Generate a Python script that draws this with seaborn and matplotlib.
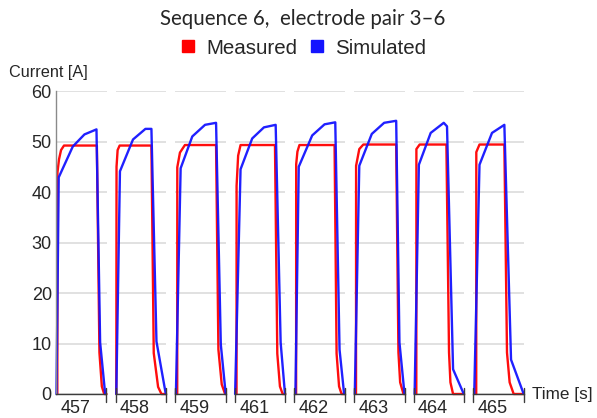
import numpy as np
import pandas as pd
import matplotlib
matplotlib.use('Agg')
import matplotlib.pyplot as plt
from matplotlib.lines import Line2D
import seaborn as sns

# ─── data: one pulse per panel, time offsets [s] relative to the tick ────────

ticks = [457, 458, 459, 461, 462, 463, 464, 465]

meas_dt = [
    [-0.233, -0.231, -0.211, -0.185, -0.147, 0.276, 0.309, 0.340, 0.370, 0.400],
    [-0.241, -0.238, -0.224, -0.198, 0.211, 0.241, 0.297, 0.340, 0.400],
    [-0.224, -0.223, -0.189, -0.125, 0.276, 0.306, 0.349, 0.392, 0.400],
    [-0.228, -0.227, -0.207, -0.176, 0.267, 0.297, 0.331, 0.366, 0.400],
    [-0.228, -0.227, -0.211, -0.185, 0.267, 0.293, 0.325, 0.357, 0.400],
    [-0.224, -0.223, -0.182, -0.130, 0.293, 0.322, 0.344, 0.387, 0.400],
    [-0.215, -0.214, -0.172, 0.172, 0.206, 0.224, 0.258, 0.400],
    [-0.211, -0.210, -0.169, 0.151, 0.185, 0.219, 0.271, 0.400],
]
meas_i = [
    [0, 43.9, 46.5, 48.3, 49.2, 49.2, 8.2, 1.5, 0, 0],
    [0, 45.0, 48.3, 49.2, 49.2, 8.1, 1.4, 0, 0],
    [0, 44.9, 47.8, 49.3, 49.3, 8.8, 1.9, 0, 0],
    [0, 41.2, 47.2, 49.3, 49.3, 8.0, 1.5, 0, 0],
    [0, 45.5, 48.0, 49.3, 49.3, 8.0, 1.5, 0, 0],
    [0, 45.2, 48.5, 49.4, 49.4, 8.2, 2.3, 0, 0],
    [0, 48.5, 49.4, 49.4, 8.2, 2.3, 0, 0],
    [0, 47.9, 49.4, 49.4, 8.2, 2.3, 0, 0],
]

sim_dt = [
    [-0.244, -0.215, -0.034, 0.116, 0.271, 0.318, 0.383],
    [-0.241, -0.194, -0.026, 0.134, 0.211, 0.276, 0.396],
    [-0.241, -0.180, -0.030, 0.134, 0.276, 0.337, 0.400],
    [-0.246, -0.176, -0.026, 0.125, 0.276, 0.340, 0.396],
    [-0.237, -0.194, -0.021, 0.138, 0.276, 0.331, 0.390],
    [-0.240, -0.182, -0.021, 0.138, 0.293, 0.335, 0.400],
    [-0.237, -0.182, -0.030, 0.138, 0.180, 0.258, 0.396],
    [-0.237, -0.169, -0.008, 0.151, 0.237, 0.400],
]
sim_i = [
    [0, 42.9, 49.0, 51.4, 52.4, 10.2, 0],
    [0, 44.1, 50.4, 52.5, 52.5, 10.4, 0],
    [0, 44.7, 51.0, 53.3, 53.7, 9.8, 0],
    [0, 44.5, 50.6, 52.8, 53.3, 10.2, 0],
    [0, 45.0, 51.2, 53.4, 53.8, 8.8, 0],
    [0, 45.2, 51.5, 53.7, 54.1, 10.2, 0],
    [0, 45.4, 51.7, 53.7, 53.0, 4.9, 0],
    [0, 45.4, 51.7, 53.3, 6.8, 0],
]

rows = []
for k, t in enumerate(ticks):
    for dt, cur in zip(meas_dt[k], meas_i[k]):
        rows.append((k, t + dt, cur, 'Measured'))
    for dt, cur in zip(sim_dt[k], sim_i[k]):
        rows.append((k, t + dt, cur, 'Simulated'))
df = pd.DataFrame(rows, columns=['panel', 'time', 'current', 'series'])

colors = {'Measured': '#ff0000', 'Simulated': '#1414ff'}

# ─── figure ──────────────────────────────────────────────────────────────────

sns.set_style('white')
plt.rcParams['font.family'] = ['Liberation Sans', 'DejaVu Sans']

W, H = 597, 418
fig = plt.figure(figsize=(W / 100, H / 100), dpi=100)

left0, pw, step = 56, 50.5, 59.6
y_top, y_bot = 91, 394
axis_col = '#3c3c3c'

for k, t in enumerate(ticks):
    x0 = left0 + k * step
    ax = fig.add_axes([x0 / W, 1 - y_bot / H, pw / W, (y_bot - y_top) / H])
    sub = df[df.panel == k]
    for name in ['Measured', 'Simulated']:
        s = sub[sub.series == name]
        sns.lineplot(x=s.time.values, y=s.current.values, ax=ax, color=colors[name],
                     lw=1.7, estimator=None, sort=False, alpha=0.95)
    for ln in ax.lines:
        ln.set_clip_on(False)

    ax.set_xlim(t - 0.25, t + 0.40)
    ax.set_ylim(0, 60)
    ax.set_yticks(range(0, 61, 10))
    ax.yaxis.grid(True, color='#dedede', lw=1.3)
    ax.xaxis.grid(False)
    ax.set_axisbelow(True)
    ax.set_xticks([t])
    ax.set_xticklabels([str(t)], fontsize=13)
    ax.tick_params(axis='x', direction='in', length=3, width=0.8, color=axis_col, pad=4)

    for sp in ['top', 'right']:
        ax.spines[sp].set_visible(False)
    ax.spines['bottom'].set_color(axis_col)
    ax.spines['bottom'].set_linewidth(1.0)

    if k == 0:
        ax.spines['left'].set_color('#8a8a8a')
        ax.spines['left'].set_linewidth(1.0)
        ax.set_yticks(np.arange(0, 61, 2), minor=True)
        ax.tick_params(axis='y', which='major', direction='in', length=4, width=0.8,
                       color='#8a8a8a', labelsize=13, pad=3)
        ax.tick_params(axis='y', which='minor', direction='in', length=2, width=0.6,
                       color='#8a8a8a')
    else:
        ax.spines['left'].set_visible(False)
        ax.tick_params(axis='y', length=0, labelleft=False)
        ax.plot([t - 0.25, t - 0.25], [-1.6, 1.2], color=axis_col, lw=1.0, clip_on=False)
    ax.plot([t + 0.40, t + 0.40], [-1.6, 1.2], color=axis_col, lw=1.0, clip_on=False)
    ax.set_xlabel('')
    ax.set_ylabel('')

fig.text(9 / W, 1 - 72 / H, 'Current [A]', fontsize=11.7, ha='left', va='center')
fig.text(532 / W, 1 - 394 / H, 'Time [s]', fontsize=12.3, ha='left', va='center')
fig.text(303 / W, 1 - 19 / H, 'Sequence 6,  electrode pair 3\u20136', fontsize=14.8,
         ha='center', va='center', family=['Lato', 'DejaVu Sans'])

handles = [Line2D([], [], ls='none', marker='s', markersize=9, color=colors[n]) for n in colors]
fig.legend(handles, list(colors), loc='center', bbox_to_anchor=(302 / W, 1 - 48 / H),
           ncol=2, frameon=False, fontsize=14.8, handletextpad=0.4, columnspacing=0.45,
           handlelength=1.0, borderaxespad=0)

fig.savefig('out.png', dpi=100)
